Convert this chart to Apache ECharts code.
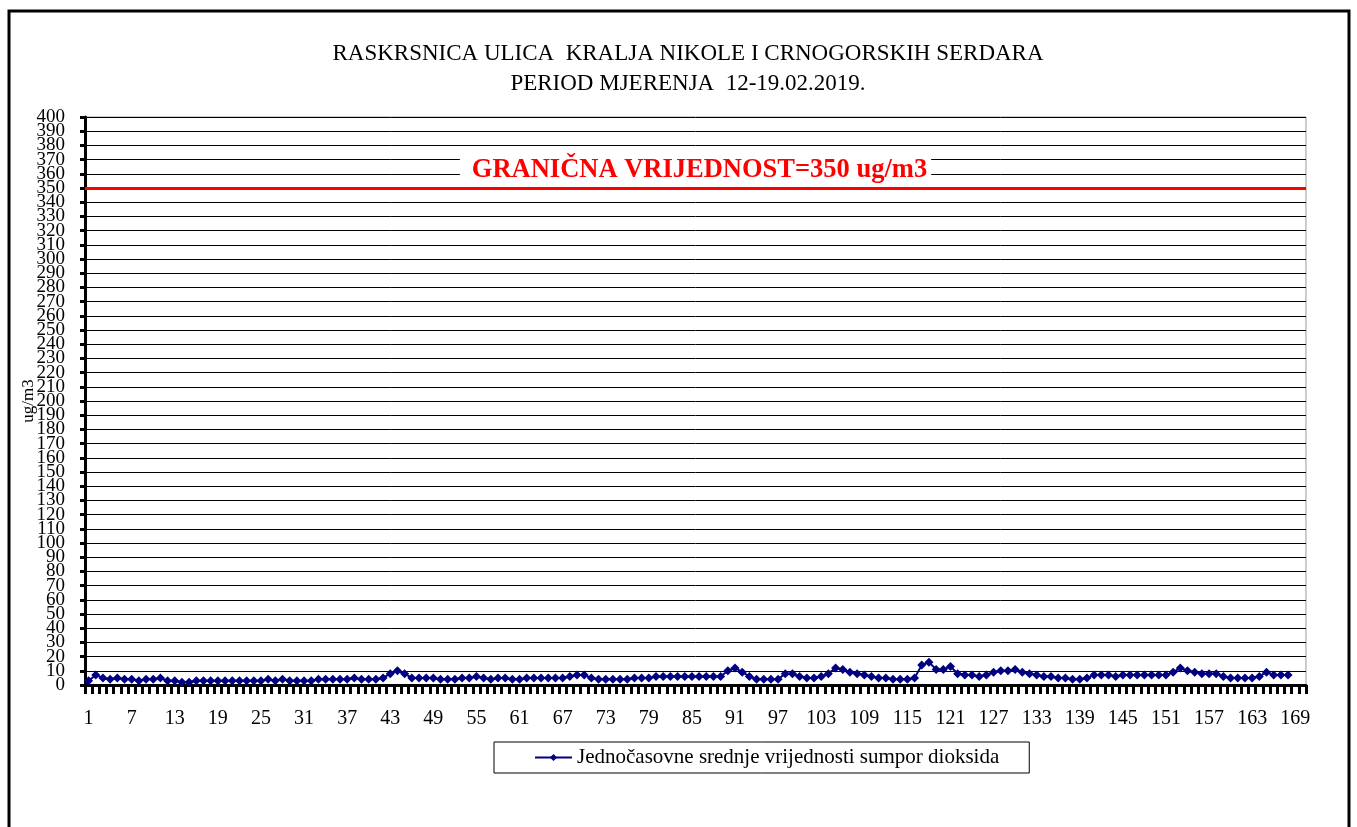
<!DOCTYPE html>
<html>
<head>
<meta charset="utf-8">
<script src="https://cdn.jsdelivr.net/npm/echarts@6/dist/echarts.min.js"></script>
<style>
  html, body { margin: 0; padding: 0; background: #fff; }
  #chart { width: 1357px; height: 827px; }
</style>
</head>
<body>
<div id="chart"></div>
<script>
var titleLines = ['RASKRSNICA ULICA  KRALJA NIKOLE I CRNOGORSKIH SERDARA', 'PERIOD MJERENJA  12-19.02.2019.'];
var seriesName = 'Jednočasovne srednje vrijednosti sumpor dioksida';
var limitValue = 350;
var limitLabel = 'GRANIČNA VRIJEDNOST=350 ug/m3';
var yName = 'ug/m3';
var yMin = 0, yMax = 400, yStep = 10;

// sati 1..170 na x osi
var hours = [];
for (var h = 1; h <= 170; h++) hours.push(String(h));

// jednočasovne vrijednosti SO2 (ug/m3)
var so2 = [
  3, 7, 5, 4, 5, 4, 4, 3, 4, 4, 5, 3, 3, 2, 2, 3, 3, 3, 3, 3,
  3, 3, 3, 3, 3, 4, 3, 4, 3, 3, 3, 3, 4, 4, 4, 4, 4, 5, 4, 4,
  4, 5, 8, 10, 8, 5, 5, 5, 5, 4, 4, 4, 5, 5, 6, 5, 4, 5, 5, 4,
  4, 5, 5, 5, 5, 5, 5, 6, 7, 7, 5, 4, 4, 4, 4, 4, 5, 5, 5, 6,
  6, 6, 6, 6, 6, 6, 6, 6, 6, 10, 12, 9, 6, 4, 4, 4, 4, 8, 8, 6,
  5, 5, 6, 8, 12, 11, 9, 8, 7, 6, 5, 5, 4, 4, 4, 5, 14, 16, 11, 11,
  13, 8, 7, 7, 6, 7, 9, 10, 10, 11, 9, 8, 7, 6, 6, 5, 5, 4, 4, 5,
  7, 7, 7, 6, 7, 7, 7, 7, 7, 7, 7, 9, 12, 10, 9, 8, 8, 8, 6, 5,
  5, 5, 5, 6, 9, 7, 7, 7
];

var serif = '"Liberation Serif", "Times New Roman", serif';
var yLabelStyle = { margin: 20, fontFamily: serif, fontSize: 19, color: '#000' };

var chart = echarts.init(document.getElementById('chart'));

chart.setOption({
  backgroundColor: '#fff',
  animation: false,
  title: {
    text: titleLines.join('\n'),
    left: 683,
    textAlign: 'center',
    top: 34,
    textStyle: {
      fontFamily: serif,
      fontSize: 23,
      fontWeight: 'normal',
      color: '#000',
      lineHeight: 30
    }
  },
  graphic: [{
    type: 'rect',
    shape: { x: 9, y: 11, width: 1340, height: 830 },
    style: { fill: 'none', stroke: '#000', lineWidth: 3 },
    silent: true
  }],
  legend: {
    left: 494,
    top: 742,
    padding: [5, 30, 5, 40],
    borderColor: '#000',
    borderWidth: 1,
    itemWidth: 37,
    itemHeight: 9,
    itemGap: 5,
    textStyle: { fontFamily: serif, fontSize: 21, color: '#000' },
    data: [seriesName]
  },
  grid: {
    left: 85,
    top: 117,
    right: 51,
    bottom: 142,
    show: true,
    borderColor: '#999',
    borderWidth: 1
  },
  xAxis: {
    type: 'category',
    data: hours,
    boundaryGap: true,
    axisLine: { lineStyle: { color: '#000', width: 3 } },
    axisTick: { show: true, interval: 0, length: 9, lineStyle: { color: '#000', width: 3 } },
    axisLabel: {
      interval: 5,
      margin: 24,
      fontFamily: serif,
      fontSize: 20,
      color: '#000'
    },
    splitLine: { show: false }
  },
  yAxis: [{
    type: 'value',
    min: yMin,
    max: yMax,
    interval: yStep,
    name: yName,
    nameLocation: 'middle',
    nameGap: 48,
    nameMoveOverlap: false,
    nameTextStyle: { fontFamily: serif, fontSize: 17, color: '#000' },
    axisLine: { show: true, lineStyle: { color: '#000', width: 3 } },
    axisTick: { show: true, length: 5, lineStyle: { color: '#000', width: 3 } },
    axisLabel: Object.assign({ showMinLabel: false, showMaxLabel: false, hideOverlap: false }, yLabelStyle),
    splitLine: { lineStyle: { color: '#000', width: 1 } }
  }, {
    // samo krajnje oznake 0 i 400
    type: 'value',
    position: 'left',
    offset: 0,
    min: yMin,
    max: yMax,
    interval: yMax - yMin,
    axisLine: { show: false },
    axisTick: { show: true, length: 5, lineStyle: { color: '#000', width: 3 } },
    axisLabel: Object.assign({ showMinLabel: true, showMaxLabel: true }, yLabelStyle),
    splitLine: { show: false }
  }],
  series: [{
    name: seriesName,
    type: 'line',
    yAxisIndex: 0,
    data: so2,
    symbol: 'diamond',
    symbolSize: 9,
    showAllSymbol: true,
    itemStyle: { color: '#000080' },
    lineStyle: { color: '#000080', width: 2 },
    markLine: {
      silent: true,
      symbol: ['none', 'none'],
      data: [{ yAxis: limitValue }],
      lineStyle: { color: '#ff0000', width: 3, type: 'solid' },
      label: {
        show: true,
        position: 'insideMiddleTop',
        formatter: limitLabel,
        distance: 4,
        fontFamily: serif,
        fontSize: 26.5,
        fontWeight: 'bold',
        color: '#ff0000',
        backgroundColor: '#fff',
        padding: [0, 4, 0, 12]
      }
    }
  }]
});
</script>
</body>
</html>
